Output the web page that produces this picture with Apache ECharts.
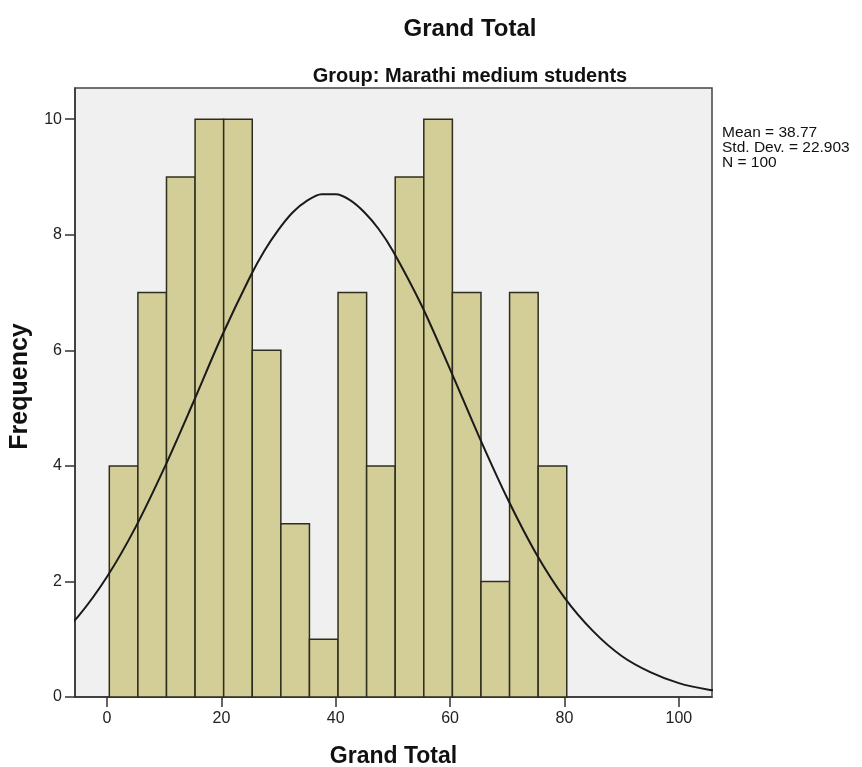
<!DOCTYPE html>
<html>
<head>
<meta charset="utf-8">
<script src="https://cdn.jsdelivr.net/npm/echarts@6/dist/echarts.min.js"></script>
<style>html,body{margin:0;padding:0;background:#fff;}#c{width:862px;height:767px;}</style>
</head>
<body>
<div id="c"></div>
<script>
// Histogram bins (lower edges) and counts
var binStarts = [0.4, 5.4, 10.4, 15.4, 20.4, 25.4, 30.4, 35.4, 40.4, 45.4, 50.4, 55.4, 60.4, 65.4, 70.4, 75.4];
var binWidth = 5;
var counts = [4, 7, 9, 10, 10, 6, 3, 1, 7, 4, 9, 10, 7, 2, 7, 4];
// Normal curve points
var curveX = [-10, -5, 0, 5, 10, 15, 20, 25, 27.5, 30, 32.5, 35, 37.5, 40, 42.5, 45, 47.5, 50, 55, 60, 65, 70, 75, 80, 85, 90, 95, 100, 105, 110];
var curveY = [0.90, 1.40, 2.08, 2.94, 3.96, 5.08, 6.23, 7.27, 7.72, 8.09, 8.39, 8.59, 8.70, 8.70, 8.60, 8.39, 8.10, 7.72, 6.78, 5.67, 4.52, 3.44, 2.49, 1.72, 1.14, 0.71, 0.43, 0.24, 0.13, 0.07];
var xTicks = [0, 20, 40, 60, 80, 100];
var yTicks = [0, 2, 4, 6, 8, 10];
var statsLines = ['Mean = 38.77', 'Std. Dev. = 22.903', 'N = 100'];

var histData = binStarts.map(function (s, i) { return [s, s + binWidth, counts[i]]; });
var curveData = curveX.map(function (x, i) { return [x, curveY[i]]; });

var chart = echarts.init(document.getElementById('c'));
var font = 'Arial, "Liberation Sans", sans-serif';
chart.setOption({
  animation: false,
  backgroundColor: '#ffffff',
  title: [
    { text: 'Grand Total', left: 465, top: 12, textAlign: 'center',
      textStyle: { fontFamily: font, fontSize: 24, fontWeight: 'bold', color: '#111' } },
    { text: 'Group: Marathi medium students', left: 465, top: 61, textAlign: 'center',
      textStyle: { fontFamily: font, fontSize: 20, fontWeight: 'bold', color: '#111' } }
  ],
  grid: { left: 75, top: 88, right: 150, bottom: 70, outerBoundsMode: 'none', show: true, backgroundColor: '#f0f0f0', borderColor: '#444', borderWidth: 1.5 },
  xAxis: {
    type: 'value', min: -5.6, max: 105.8,
    name: 'Grand Total', nameLocation: 'middle', nameGap: 48,
    nameTextStyle: { fontFamily: font, fontSize: 23, fontWeight: 'bold', color: '#111' },
    axisLine: { show: true, onZero: false, lineStyle: { color: '#333', width: 1.5 } },
    axisTick: { show: true, length: 10, customValues: xTicks, lineStyle: { color: '#333', width: 1.5 } },
    axisLabel: { customValues: xTicks, fontFamily: font, fontSize: 16, color: '#222', margin: 14 },
    splitLine: { show: false }
  },
  yAxis: {
    type: 'value', min: 0, max: 10.54,
    name: 'Frequency', nameLocation: 'middle', nameGap: 42, nameRotate: 90,
    nameTextStyle: { fontFamily: font, fontSize: 25, fontWeight: 'bold', color: '#111', padding: [0, 0, 0, 12] },
    axisLine: { show: true, onZero: false, lineStyle: { color: '#333', width: 1.5 } },
    axisTick: { show: true, length: 10, customValues: yTicks, lineStyle: { color: '#333', width: 1.5 } },
    axisLabel: { customValues: yTicks, fontFamily: font, fontSize: 16, color: '#222', margin: 13 },
    splitLine: { show: false }
  },
  series: [
    {
      type: 'custom',
      data: histData,
      encode: { x: [0, 1], y: 2 },
      renderItem: function (params, api) {
        var p0 = api.coord([api.value(0), 0]);
        var p1 = api.coord([api.value(1), api.value(2)]);
        return {
          type: 'rect',
          shape: { x: p0[0], y: p1[1], width: p1[0] - p0[0], height: p0[1] - p1[1] },
          style: { fill: '#d3cd98', stroke: '#2e2e1e', lineWidth: 1.5 }
        };
      },
      z: 2
    },
    {
      type: 'line',
      data: curveData,
      smooth: 0.3,
      showSymbol: false,
      clip: true,
      lineStyle: { color: '#1a1a1a', width: 2 },
      z: 3
    }
  ],
  graphic: [
    { type: 'text', left: 722, top: 125,
      style: { text: statsLines.join('\n'), fontFamily: font, fontSize: 15.5, lineHeight: 15, fill: '#111' } }
  ]
});
</script>
</body>
</html>
